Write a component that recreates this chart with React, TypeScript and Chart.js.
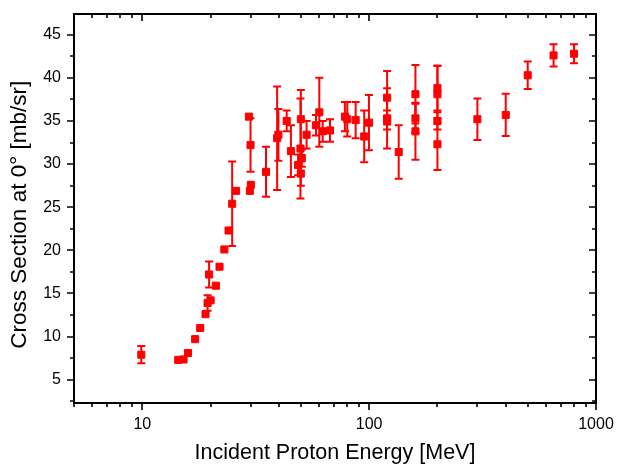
import React, { useEffect, useRef } from "react";
import { Chart, registerables } from "chart.js";

Chart.register(...registerables);

// Incident proton energy [MeV]
const energies = [
  9.9, 14.4, 15.2, 15.9, 17.1, 18.0, 19.0, 19.4, 20.0, 19.7,
  21.1, 21.9, 23.0, 24.0, 24.9, 25.9, 29.5, 30.0, 29.8, 30.1,
  35.1, 39.3, 39.8, 43.3, 45.2, 50.0, 49.8, 50.5, 48.6, 50.0,
  53.0, 58.3, 60.3, 62.4, 67.2, 78.2, 80.1, 87.2, 95.1, 99.8,
  120, 120, 120, 135, 160, 160, 160, 200, 200, 200,
  200, 300, 400, 500, 650, 800,
];
// Cross section at 0 deg [mb/sr]
const values = [
  7.9, 7.3, 7.35, 8.1, 9.7, 11.0, 12.6, 13.9, 14.2, 17.2,
  15.9, 18.1, 20.1, 22.3, 25.4, 26.9, 35.5, 32.2, 26.9, 27.6,
  29.1, 33.0, 33.4, 35.0, 31.5, 35.2, 31.8, 30.7, 29.9, 28.9,
  33.4, 34.5, 36.0, 33.8, 33.9, 35.5, 35.2, 35.1, 33.2, 34.8,
  37.7, 35.1, 35.3, 31.4, 38.1, 35.3, 33.8, 38.8, 38.1, 35.0,
  32.3, 35.2, 35.7, 40.3, 42.6, 42.8,
];
// Symmetric uncertainties [mb/sr] (0 = no visible bar)
const errors = [
  1.0, 0, 0, 0, 0, 0, 0, 0.9, 0, 1.5,
  0, 0, 0, 0, 4.9, 0, 0, 3.1, 0, 0,
  2.9, 6.0, 3.0, 1.2, 3.0, 3.4, 5.8, 1.0, 1.2, 1.4,
  1.6, 1.2, 4.0, 1.2, 1.3, 1.7, 2.0, 2.1, 3.0, 3.2,
  3.1, 1.1, 3.5, 3.1, 3.4, 1.7, 3.3, 2.6, 3.3, 1.0,
  3.0, 2.4, 2.45, 1.6, 1.3, 1.1,
];

const xTickValues = [10, 100, 1000];
const xMinorMultipliers = [2, 3, 4, 5, 6, 7, 8, 9];
const xDecades = [1, 10, 100];
const yTickValues = [5, 10, 15, 20, 25, 30, 35, 40, 45];
const yMinorValues = [2.5, 7.5, 12.5, 17.5, 22.5, 27.5, 32.5, 37.5, 42.5];

const X_MIN = 5;
const X_MAX = 1000;
const Y_MIN = 2.3;
const Y_MAX = 47.4;

const RED = "#ff0000";
const FONT = "Arial, 'Liberation Sans', sans-serif";

const errorBarPlugin = {
  id: "errorBars",
  beforeDatasetsDraw(chart: any) {
    const { ctx } = chart;
    const x = chart.scales.x;
    const y = chart.scales.y;
    ctx.save();
    ctx.strokeStyle = RED;
    ctx.lineWidth = 2;
    energies.forEach((e, i) => {
      const err = errors[i];
      if (!err) return;
      const px = x.getPixelForValue(e);
      const top = y.getPixelForValue(values[i] + err);
      const bot = y.getPixelForValue(values[i] - err);
      ctx.beginPath();
      ctx.moveTo(px, top);
      ctx.lineTo(px, bot);
      ctx.moveTo(px - 4, top);
      ctx.lineTo(px + 4, top);
      ctx.moveTo(px - 4, bot);
      ctx.lineTo(px + 4, bot);
      ctx.stroke();
    });
    ctx.restore();
  },
};

const framePlugin = {
  id: "frame",
  afterDraw(chart: any) {
    const { ctx, chartArea } = chart;
    const { left, right, top, bottom } = chartArea;
    const x = chart.scales.x;
    const y = chart.scales.y;
    const MAJ = 7;
    const MIN = 4;
    ctx.save();
    ctx.strokeStyle = "#000";
    ctx.lineWidth = 2;
    ctx.strokeRect(left, top, right - left, bottom - top);
    ctx.lineWidth = 1.6;
    ctx.beginPath();
    const yTick = (v: number, len: number) => {
      const py = Math.round(y.getPixelForValue(v));
      ctx.moveTo(left - len, py);
      ctx.lineTo(left, py);
      ctx.moveTo(right, py);
      ctx.lineTo(right - len, py);
    };
    yTickValues.forEach((v) => yTick(v, MAJ));
    yMinorValues.forEach((v) => {
      if (v >= Y_MIN && v <= Y_MAX) yTick(v, MIN);
    });
    const xTick = (v: number, len: number) => {
      const px = Math.round(x.getPixelForValue(v));
      ctx.moveTo(px, bottom);
      ctx.lineTo(px, bottom + len);
      ctx.moveTo(px, top);
      ctx.lineTo(px, top + len);
    };
    xTickValues.forEach((v) => xTick(v, MAJ));
    xDecades.forEach((d) =>
      xMinorMultipliers.forEach((m) => {
        const v = d * m;
        if (v >= X_MIN && v < X_MAX && !xTickValues.includes(v)) xTick(v, MIN);
      })
    );
    ctx.stroke();
    ctx.restore();
  },
};

const zeroPadding = (s: any) => {
  s.paddingLeft = 0;
  s.paddingRight = 0;
  s.paddingTop = 0;
  s.paddingBottom = 0;
};

export default function App() {
  const ref = useRef<HTMLCanvasElement | null>(null);

  useEffect(() => {
    if (!ref.current) return;
    Chart.defaults.font.family = FONT;
    const chart = new Chart(ref.current, {
      type: "scatter",
      data: {
        datasets: [
          {
            data: energies.map((e, i) => ({ x: e, y: values[i] })),
            backgroundColor: RED,
            borderColor: RED,
            borderWidth: 1,
            pointStyle: "rect",
            pointRadius: 5,
            showLine: false,
          },
        ],
      },
      options: {
        responsive: false,
        animation: false,
        devicePixelRatio: 1,
        layout: { padding: { top: 14, right: 21, left: 0, bottom: 0 } },
        plugins: {
          legend: { display: false },
          tooltip: { enabled: false },
        },
        scales: {
          x: {
            type: "logarithmic",
            position: "bottom",
            min: X_MIN,
            max: X_MAX,
            grid: { display: false, drawTicks: false },
            border: { display: false },
            afterBuildTicks: (s: any) => {
              s.ticks = xTickValues.map((v) => ({ value: v }));
            },
            afterFit: (s: any) => {
              s.height = 61;
              zeroPadding(s);
            },
            ticks: {
              padding: 12,
              color: "#000",
              font: { size: 16, family: FONT },
              autoSkip: false,
              maxRotation: 0,
              callback: (v: any) => String(v),
            },
            title: {
              display: true,
              text: "Incident Proton Energy [MeV]",
              color: "#000",
              font: { size: 21.5, family: FONT, lineHeight: 1 },
              padding: 0,
            },
          },
          y: {
            type: "linear",
            position: "left",
            min: Y_MIN,
            max: Y_MAX,
            grid: { display: false, drawTicks: false },
            border: { display: false },
            afterBuildTicks: (s: any) => {
              s.ticks = yTickValues.map((v) => ({ value: v }));
            },
            afterFit: (s: any) => {
              s.width = 74;
              zeroPadding(s);
            },
            ticks: {
              padding: 13,
              color: "#000",
              font: { size: 16, family: FONT },
              callback: (v: any) => String(v),
            },
            title: {
              display: true,
              text: "Cross Section at 0° [mb/sr]  ",
              color: "#000",
              font: { size: 22.5, family: FONT, lineHeight: 1 },
              padding: { top: 9, bottom: 0 },
            },
          },
        },
      },
      plugins: [errorBarPlugin, framePlugin],
    });
    return () => chart.destroy();
  }, []);

  return (
    <div style={{ position: "fixed", left: 0, top: 0, width: 617, height: 464, background: "#fff" }}>
      <canvas ref={ref} width={617} height={464} style={{ display: "block" }} />
    </div>
  );
}
